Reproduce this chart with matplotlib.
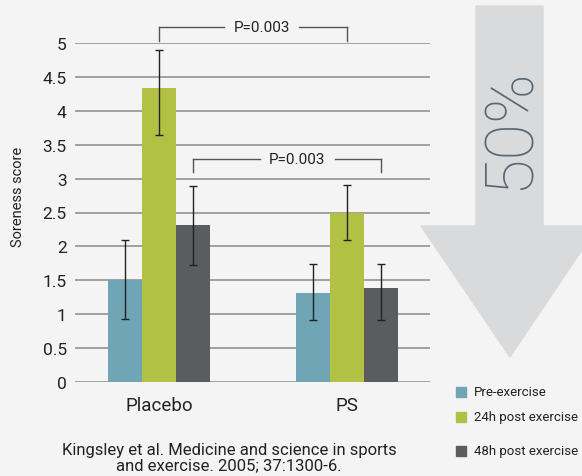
import numpy as np
import matplotlib.pyplot as plt
from matplotlib.patches import Polygon

# data
groups = ['Placebo', 'PS']
series = ['Pre-exercise', '24h post exercise', '48h post exercise']
pre = [1.5, 1.31]
h24 = [4.33, 2.5]
h48 = [2.31, 1.38]
err_lo = [[0.57, 0.39], [0.68, 0.41], [0.59, 0.46]]
err_hi = [[0.6, 0.43], [0.57, 0.41], [0.58, 0.36]]
yticks = [0, 0.5, 1, 1.5, 2, 2.5, 3, 3.5, 4, 4.5, 5]
pval = 'P=0.003'

colors = ['#6fa5b5', '#b1c144', '#5b5c5e']
bg = '#f4f4f4'
plt.rcParams['font.family'] = ['Roboto', 'DejaVu Sans']

fig = plt.figure(figsize=(5.82, 4.77), dpi=100, facecolor=bg)
ax = fig.add_axes([75/582, 1-383/477, (430-75)/582, (383-44)/477])
ax.set_facecolor(bg)

x = np.arange(len(groups))
w = 0.181
for i, vals in enumerate([pre, h24, h48]):
    ax.bar(x + (i-1)*w, vals, w, color=colors[i], zorder=3, label=series[i])
    ax.errorbar(x + (i-1)*w, vals, yerr=[err_lo[i], err_hi[i]], fmt='none',
                ecolor='#222222', elinewidth=1, capsize=3, capthick=1, zorder=4)

ax.set_xlim(-0.447, 1.441)
ax.set_ylim(0, 5)
ax.set_yticks(yticks)
ax.set_yticklabels([f'{t:g}' for t in yticks], fontsize=12.5, color='#222222')
ax.set_xticks(x)
ax.set_xticklabels(groups, fontsize=13.5, color='#222222')
ax.tick_params(axis='x', length=0, pad=10)
ax.tick_params(axis='y', length=0, pad=6)
ax.grid(axis='y', color='#9a9a9a', lw=1.3, zorder=0)
for s in ax.spines.values():
    s.set_visible(False)
ax.set_ylabel('Soreness score', fontsize=10.5, color='#222222')
ax.yaxis.set_label_coords(-0.142, 0.549)


def bracket(x0, x1, y, ylow, xt):
    kw = dict(color='#555555', lw=1, clip_on=False, zorder=5)
    ax.plot([x0, x0], [ylow, y], **kw)
    ax.plot([x1, x1], [ylow, y], **kw)
    ax.plot([x0, xt - 0.2], [y, y], **kw)
    ax.plot([xt + 0.2, x1], [y, y], **kw)
    ax.text(xt, y, pval, ha='center', va='center', fontsize=11, color='#222222')


bracket(x[0], x[1], 5.24, 5.03, 0.545)
bracket(x[0] + w, x[1] + w, 3.29, 3.1, 0.735)

# big arrow
outline = [[476, 7], [543, 7], [543, 227], [598, 227], [510, 358], [421, 227], [476, 227]]
pts = [[px/582, 1-py/477] for px, py in outline]
arrow = Polygon(pts, closed=True, color='#d9dadb', transform=fig.transFigure, zorder=0)
fig.patches.append(arrow)
fig.text(511/582, 1-129/477, '50%', rotation=90, ha='center', va='center',
         fontsize=48, fontweight='light', color='#566775')

# legend
for i, name in enumerate(series):
    yy = [393, 418, 452][i]
    fig.patches.append(plt.Rectangle((456/582, 1-(yy+5)/477), 10/582, 10/477,
                                     color=colors[i], transform=fig.transFigure))
    fig.text(474/582, 1-yy/477, name, ha='left', va='center', fontsize=9.5, color='#222222')

fig.text(229/582, 1-458/477, 'Kingsley et al. Medicine and science in sports\nand exercise. 2005; 37:1300-6.',
         ha='center', va='center', fontsize=12, color='#222222', linespacing=1.0)

fig.savefig('out.png', dpi=100, facecolor=bg)
